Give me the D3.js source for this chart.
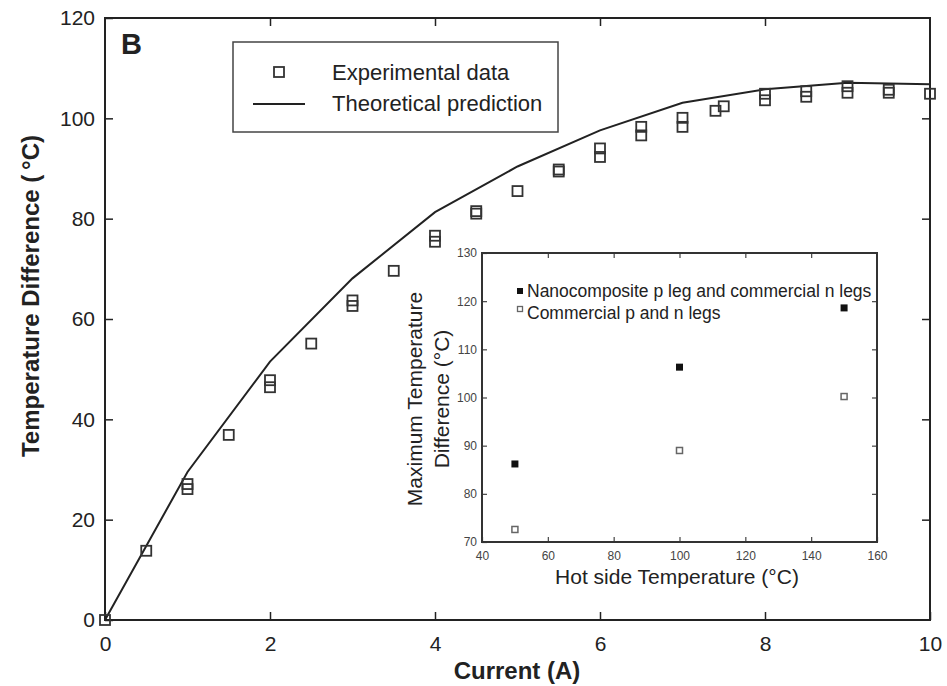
<!DOCTYPE html>
<html>
<head>
<meta charset="utf-8">
<script src="https://cdn.jsdelivr.net/npm/d3@7"></script>
<style>
  body { margin: 0; background: #fff; }
  svg { display: block; font-family: "Liberation Sans", Arial, sans-serif; }
</style>
</head>
<body>
<svg id="chart" width="947" height="686"></svg>
<script>
// main plot: measured and predicted temperature difference vs current
const expCurrent = [0, 0.5, 1, 1, 1.5, 2, 2, 2.5, 3, 3, 3.5, 4, 4, 4.5, 4.5, 5, 5.5, 5.5, 6, 6,
  6.5, 6.5, 7, 7, 7.4, 7.5, 8, 8, 8.5, 8.5, 9, 9, 9.5, 9.5, 10];
const expDeltaT = [0, 13.8, 27.1, 26.1, 36.9, 47.8, 46.4, 55.1, 63.7, 62.6, 69.6, 76.6, 75.4, 81.5, 81.0,
  85.5, 89.8, 89.4, 94.0, 92.3, 98.3, 96.6, 100.1, 98.3, 101.5, 102.4, 104.9, 103.6, 105.4, 104.3,
  106.4, 105.1, 105.7, 105.1, 104.9];
const theoryCurrent = [0, 1, 2, 3, 4, 5, 6, 7, 8, 9, 10];
const theoryDeltaT = [0, 29.5, 51.5, 68.1, 81.3, 90.4, 97.6, 103.1, 105.8, 107.1, 106.8];
const xTicks = [0, 2, 4, 6, 8, 10];
const yTicks = [0, 20, 40, 60, 80, 100, 120];

// inset: maximum temperature difference vs hot side temperature
const hotSide = [50, 100, 150];
const nanoMax = [86.2, 106.3, 118.6];
const commMax = [72.6, 89.0, 100.2];
const insetXTicks = [40, 60, 80, 100, 120, 140, 160];
const insetYTicks = [70, 80, 90, 100, 110, 120, 130];

const svg = d3.select("#chart");
const ink = "#222";

// === main chart
const x = d3.scaleLinear().domain([0, 10]).range([105, 930]);
const y = d3.scaleLinear().domain([0, 120]).range([620, 18]);

function styleAxis(g) {
  g.select(".domain").remove();
  g.selectAll(".tick line").attr("stroke", ink).attr("stroke-width", 1.5);
}

svg.append("g").attr("transform", "translate(0,620)")
  .call(d3.axisBottom(x).tickValues(xTicks).tickSize(-8).tickPadding(16))
  .call(styleAxis)
  .selectAll("text").attr("font-size", 21).attr("fill", ink);
svg.append("g").attr("transform", "translate(0,18)")
  .call(d3.axisTop(x).tickValues(xTicks.slice(1, -1)).tickSize(-8).tickFormat(""))
  .call(styleAxis);
svg.append("g").attr("transform", "translate(105,0)")
  .call(d3.axisLeft(y).tickValues(yTicks).tickSize(-8).tickPadding(10))
  .call(styleAxis)
  .selectAll("text").attr("font-size", 21).attr("fill", ink);
svg.append("g").attr("transform", "translate(930,0)")
  .call(d3.axisRight(y).tickValues(yTicks.slice(1, -1)).tickSize(-8).tickFormat(""))
  .call(styleAxis);

svg.append("rect")
  .attr("x", x(0)).attr("y", y(120))
  .attr("width", x(10) - x(0)).attr("height", y(0) - y(120))
  .attr("fill", "none").attr("stroke", ink).attr("stroke-width", 2);

const theory = theoryCurrent.map((c, i) => [c, theoryDeltaT[i]]);
svg.append("path")
  .datum(theory)
  .attr("d", d3.line().x(d => x(d[0])).y(d => y(d[1])))
  .attr("fill", "none").attr("stroke", ink).attr("stroke-width", 2);

const exp = expCurrent.map((c, i) => ({ c: c, t: expDeltaT[i] }));
svg.append("g").selectAll("rect")
  .data(exp)
  .join("rect")
    .attr("x", d => x(d.c) - 5)
    .attr("y", d => y(d.t) - 5)
    .attr("width", 10).attr("height", 10)
    .attr("fill", "none").attr("stroke", "#333").attr("stroke-width", 1.8);

svg.append("text").attr("x", 121).attr("y", 54)
  .attr("font-size", 29).attr("font-weight", "bold").attr("fill", ink).text("B");

svg.append("text")
  .attr("x", 517).attr("y", 679)
  .attr("text-anchor", "middle").attr("font-size", 24).attr("font-weight", "bold").attr("fill", ink)
  .text("Current (A)");
svg.append("text")
  .attr("transform", "translate(39,296) rotate(-90)")
  .attr("text-anchor", "middle").attr("font-size", 24).attr("font-weight", "bold").attr("fill", ink)
  .text("Temperature Difference (\u2009\u00B0C)");

// legend
const legend = svg.append("g").attr("transform", "translate(233,42)");
legend.append("rect").attr("width", 325).attr("height", 90)
  .attr("fill", "#fff").attr("stroke", "#444").attr("stroke-width", 1.5);
legend.append("rect").attr("x", 41).attr("y", 25).attr("width", 10).attr("height", 10)
  .attr("fill", "none").attr("stroke", "#333").attr("stroke-width", 1.8);
legend.append("line").attr("x1", 20).attr("x2", 72).attr("y1", 62).attr("y2", 62)
  .attr("stroke", ink).attr("stroke-width", 2);
legend.append("text").attr("x", 99).attr("y", 38).attr("font-size", 22).attr("fill", ink)
  .text("Experimental data");
legend.append("text").attr("x", 99).attr("y", 69).attr("font-size", 22).attr("fill", ink)
  .text("Theoretical prediction");

// === inset chart
const ix = d3.scaleLinear().domain([40, 160]).range([482, 877]);
const iy = d3.scaleLinear().domain([70, 130]).range([542, 253]);

svg.append("rect")
  .attr("x", ix(40)).attr("y", iy(130))
  .attr("width", ix(160) - ix(40)).attr("height", iy(70) - iy(130))
  .attr("fill", "#fff");

function styleInset(g) {
  g.select(".domain").remove();
  g.selectAll(".tick line").attr("stroke", "#444").attr("stroke-width", 1.2);
  g.selectAll("text").attr("font-size", 12).attr("fill", "#444");
}

svg.append("g").attr("transform", `translate(0,${iy(70)})`)
  .call(d3.axisBottom(ix).tickValues(insetXTicks).tickSize(-5).tickPadding(9))
  .call(styleInset);
svg.append("g").attr("transform", `translate(0,${iy(130)})`)
  .call(d3.axisTop(ix).tickValues(insetXTicks.slice(1, -1)).tickSize(-5).tickFormat(""))
  .call(styleInset);
svg.append("g").attr("transform", `translate(${ix(40)},0)`)
  .call(d3.axisLeft(iy).tickValues(insetYTicks).tickSize(-5).tickPadding(5))
  .call(styleInset);
svg.append("g").attr("transform", `translate(${ix(160)},0)`)
  .call(d3.axisRight(iy).tickValues(insetYTicks.slice(1, -1)).tickSize(-5).tickFormat(""))
  .call(styleInset);

svg.append("rect")
  .attr("x", ix(40)).attr("y", iy(130))
  .attr("width", ix(160) - ix(40)).attr("height", iy(70) - iy(130))
  .attr("fill", "none").attr("stroke", "#333").attr("stroke-width", 2);

svg.append("g").selectAll("rect")
  .data(hotSide.map((h, i) => [h, nanoMax[i]]))
  .join("rect")
    .attr("x", d => ix(d[0]) - 3.5).attr("y", d => iy(d[1]) - 3.5)
    .attr("width", 7).attr("height", 7).attr("fill", "#111");
svg.append("g").selectAll("rect")
  .data(hotSide.map((h, i) => [h, commMax[i]]))
  .join("rect")
    .attr("x", d => ix(d[0]) - 3).attr("y", d => iy(d[1]) - 3)
    .attr("width", 6).attr("height", 6)
    .attr("fill", "none").attr("stroke", "#666").attr("stroke-width", 1.5);

svg.append("rect").attr("x", 517).attr("y", 288).attr("width", 6).attr("height", 6).attr("fill", "#111");
svg.append("rect").attr("x", 517.5).attr("y", 306.5).attr("width", 5).attr("height", 5)
  .attr("fill", "none").attr("stroke", "#666").attr("stroke-width", 1.3);
svg.append("text").attr("x", 527).attr("y", 297).attr("font-size", 17.5).attr("fill", ink)
  .text("Nanocomposite p leg and commercial n legs");
svg.append("text").attr("x", 527).attr("y", 319).attr("font-size", 17.5).attr("fill", ink)
  .text("Commercial p and n legs");

svg.append("text")
  .attr("x", 677).attr("y", 584)
  .attr("text-anchor", "middle").attr("font-size", 21).attr("fill", ink)
  .text("Hot side Temperature (\u00B0C)");
const iyTitle = svg.append("text")
  .attr("transform", "translate(422,399) rotate(-90)")
  .attr("text-anchor", "middle").attr("font-size", 21).attr("fill", ink);
iyTitle.append("tspan").attr("x", 0).attr("y", 0).text("Maximum Temperature");
iyTitle.append("tspan").attr("x", 0).attr("y", 27).text("Difference (\u00B0C)");
</script>
</body>
</html>
